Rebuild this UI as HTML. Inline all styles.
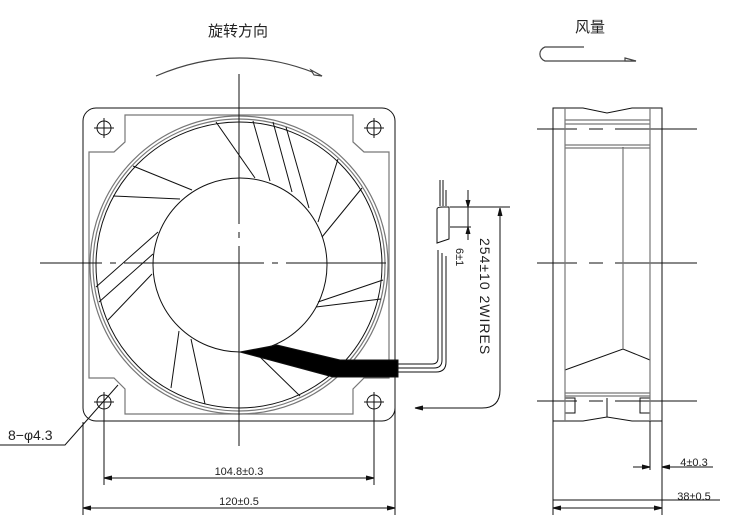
<!DOCTYPE html>
<html><head><meta charset="utf-8"><style>
html,body{margin:0;padding:0;background:#fff;}
svg{display:block;}
text{font-family:"Liberation Sans","Noto Sans CJK SC",sans-serif;fill:#222;}
</style></head><body>
<svg width="736" height="523" viewBox="0 0 736 523" xmlns="http://www.w3.org/2000/svg">
<text x="238" y="36" font-size="15" text-anchor="middle">旋转方向</text>
<text x="590" y="32" font-size="15" text-anchor="middle">风量</text>
<g fill="none" stroke="#444" stroke-width="1.2">
<path d="M156 76 Q240 40 322 76"/>
<path d="M311 70 L322 76 L314 75 Z" fill="#fff"/>
<path d="M584 47 L545 47 A8 7.5 0 0 0 545 61 L636 61"/>
<path d="M625 58 L636 61 L625 61 Z" fill="#fff"/>
</g>
<g fill="none" stroke="#111" stroke-width="1">
<rect x="83" y="108" width="312" height="313" rx="13"/>
</g>
<g fill="none" stroke="#777" stroke-width="1.2">
<path d="M125 115 L353 115 L353 142 L364 152 L389 152 L389 378 L364 378 L353 389 L353 414 L125 414 L125 389 L114 378 L89 378 L89 152 L114 152 L125 142 Z"/>
<circle cx="239" cy="265" r="149"/>
<circle cx="239" cy="265" r="146"/>
</g>
<g fill="none" stroke="#111" stroke-width="1">
<circle cx="239" cy="265" r="143"/>
<circle cx="240" cy="265" r="87"/>
<path d="M216 122 L255 178"/>
<path d="M253 121 L270 181 M273 122 L292 192 M286 127 L309 208"/>
<path d="M338 159 L318 222 M362 188 L322 237"/>
<path d="M133 166 L192 190 M113 196 L180 199"/>
<path d="M96 287 L158 232 M99 302 L153 254 M108 320 L152 274"/>
<path d="M383 280 L318 302 M381 299 L316 307"/>
<path d="M179 331 L171 388 M191 339 L205 404"/>
<path d="M258 355 L300 396"/>
<circle cx="104" cy="128" r="7"/><circle cx="374" cy="128" r="7"/>
<circle cx="104" cy="402" r="7"/><circle cx="374" cy="402" r="7"/>
<path d="M94 128h20M104 118v20M364 128h20M374 118v20M94 402h20M104 392v20M364 402h20M374 392v20"/>
<path d="M239 74 V450" stroke-dasharray="150 8 6 8 200"/>
<path d="M40 263 H410" stroke-dasharray="62 8 6 8 140 8 6 8 100"/>
<path d="M240 352 L277 345 L340 360 L398 360 L398 377 L333 377 Z" fill="#000"/>
<path d="M398 364 L432 364 Q438 364 438 358 L438 250 M398 368 L434 368 Q442 368 442 360 L442 253 M398 372 L436 372 Q446 372 446 362 L446 256"/>
<path d="M437 243 L437 209 Q437 207 443 207 L449 207 L449 239 Z" fill="#fff"/>
<path d="M440 206 V180 M443 206 V180 M446 206 V190"/>
<path d="M450 207 H510 M450 227 H471 M468 190 V240"/>
<path d="M466 200 L468 207 L470 200 M466 234 L468 227 L470 234" fill="#111"/>
<path d="M500 208 V390 Q500 408 482 408 L415 408"/>
<path d="M498 216 L500 208 L502 216 M423 406 L415 408 L423 410" fill="#111"/>
<path d="M118 385 L65 445 L0 445"/>
<path d="M104 408 V485 M374 408 V485 M83 422 V515 M395 380 V515"/>
<path d="M104 478 H374 M83 508 H395"/>
<path d="M112 476 L104 478 L112 480 M366 476 L374 478 L366 480 M91 506 L83 508 L91 510 M387 506 L395 508 L387 510" fill="#111"/>
</g>
<text x="0" y="0" font-size="14" transform="translate(480,238) rotate(90)" letter-spacing="1">254±10  2WIRES</text>
<text x="0" y="0" font-size="11" transform="translate(456,248) rotate(90)">6±1</text>
<text x="8" y="440" font-size="14">8−φ4.3</text>
<text x="239" y="475" font-size="11" text-anchor="middle">104.8±0.3</text>
<text x="239" y="505" font-size="11" text-anchor="middle">120±0.5</text>
<text x="694" y="466" font-size="11" text-anchor="middle">4±0.3</text>
<text x="694" y="500" font-size="11" text-anchor="middle">38±0.5</text>
<g fill="none" stroke="#111" stroke-width="1">
<path d="M553 108 L583 108 L607 113 L632 108 L662 108 L662 421 L632 421 L607 417 L583 421 L553 421 Z"/>
<path d="M553 421 V515 M662 421 V515 M650 421 V470"/>
<path d="M553 508 H662 M633 467 H650 M662 467 H713 M553 500 H720"/>
<path d="M561 506 L553 508 L561 510 M654 506 L662 508 L654 510 M642 465 L650 467 L642 469 M670 465 L662 467 L670 469" fill="#111"/>
<path d="M537 129 H697 M537 263 H697 M537 401 H697" stroke-dasharray="40 12 14 12 200"/>
<path d="M565 370 L623 349 L650 360 M623 349 V147"/>
<path d="M565 398 H575 V413 H565 M650 398 H640 V413 H650 M607 398 V417"/>
</g>
<g fill="none" stroke="#777" stroke-width="1.2">
<path d="M565 108 V421 M650 108 V421 M565 120 H650 M565 124 H650 M565 145 H650 M565 148 H650 M565 393 H650 M565 396 H650 M623 148 V349"/>
</g>
</svg>
</body></html>
